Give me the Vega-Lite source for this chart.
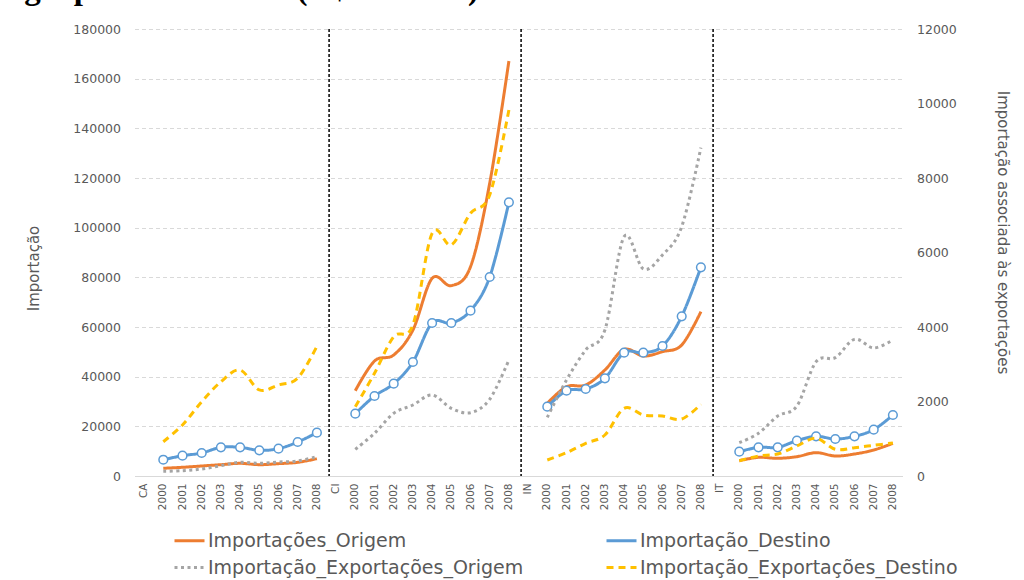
{
  "$schema": "https://vega.github.io/schema/vega-lite/v6.json",
  "width": 768,
  "height": 447,
  "autosize": "none",
  "padding": {"left": 134.5, "top": 29, "right": 121.5, "bottom": 104},
  "background": "white",
  "config": {
    "font": "DejaVu Sans",
    "view": {"stroke": null},
    "legend": {
      "orient": "none",
      "legendX": 38.5,
      "legendY": 495,
      "columns": 2,
      "direction": "horizontal",
      "symbolType": "stroke",
      "symbolSize": 900,
      "symbolStrokeWidth": 3,
      "labelFontSize": 19,
      "labelColor": "#595959",
      "labelLimit": 600,
      "labelOffset": 2,
      "columnPadding": 76,
      "rowPadding": -10
    }
  },
  "title": {
    "text": "a grupo de atividade (R$ Milhões) – 2000 a 2008",
    "font": "Liberation Serif",
    "fontSize": 33,
    "fontWeight": "bold",
    "color": "black",
    "anchor": "start",
    "frame": "group",
    "orient": "top",
    "baseline": "alphabetic",
    "offset": 15,
    "dy": 24,
    "dx": -135
  },
  "datasets": {
    "d": [
      {"cat": "CA_2000", "g": "CA", "Importações_Origem": 3100, "Importação_Destino": 6560, "Importação_Exportações_Origem": 125, "Importação_Exportações_Destino": 920},
      {"cat": "CA_2001", "g": "CA", "Importações_Origem": 3500, "Importação_Destino": 8180, "Importação_Exportações_Origem": 143, "Importação_Exportações_Destino": 1370},
      {"cat": "CA_2002", "g": "CA", "Importações_Origem": 4030, "Importação_Destino": 9260, "Importação_Exportações_Origem": 188, "Importação_Exportações_Destino": 1995},
      {"cat": "CA_2003", "g": "CA", "Importações_Origem": 4560, "Importação_Destino": 11550, "Importação_Exportações_Origem": 277, "Importação_Exportações_Destino": 2530},
      {"cat": "CA_2004", "g": "CA", "Importações_Origem": 5100, "Importação_Destino": 11550, "Importação_Exportações_Origem": 367, "Importação_Exportações_Destino": 2845},
      {"cat": "CA_2005", "g": "CA", "Importações_Origem": 4560, "Importação_Destino": 10340, "Importação_Exportações_Origem": 340, "Importação_Exportações_Destino": 2310},
      {"cat": "CA_2006", "g": "CA", "Importações_Origem": 4970, "Importação_Destino": 11000, "Importação_Exportações_Origem": 376, "Importação_Exportações_Destino": 2445},
      {"cat": "CA_2007", "g": "CA", "Importações_Origem": 5500, "Importação_Destino": 13690, "Importação_Exportações_Origem": 403, "Importação_Exportações_Destino": 2625},
      {"cat": "CA_2008", "g": "CA", "Importações_Origem": 6980, "Importação_Destino": 17440, "Importação_Exportações_Origem": 519, "Importação_Exportações_Destino": 3480},
      {"cat": "CI_2000", "g": "CI", "Importações_Origem": 34350, "Importação_Destino": 25090, "Importação_Exportações_Origem": 716, "Importação_Exportações_Destino": 1860},
      {"cat": "CI_2001", "g": "CI", "Importações_Origem": 46310, "Importação_Destino": 32220, "Importação_Exportações_Origem": 1146, "Importação_Exportações_Destino": 2757},
      {"cat": "CI_2002", "g": "CI", "Importações_Origem": 48730, "Importação_Destino": 37170, "Importação_Exportações_Origem": 1683, "Importação_Exportações_Destino": 3740},
      {"cat": "CI_2003", "g": "CI", "Importações_Origem": 58790, "Importação_Destino": 45910, "Importação_Exportações_Origem": 1906, "Importação_Exportações_Destino": 4054},
      {"cat": "CI_2004", "g": "CI", "Importações_Origem": 79600, "Importação_Destino": 61610, "Importação_Exportações_Origem": 2175, "Importação_Exportações_Destino": 6516},
      {"cat": "CI_2005", "g": "CI", "Importações_Origem": 76640, "Importação_Destino": 61610, "Importação_Exportações_Origem": 1817, "Importação_Exportações_Destino": 6202},
      {"cat": "CI_2006", "g": "CI", "Importações_Origem": 84290, "Importação_Destino": 66570, "Importação_Exportações_Origem": 1700, "Importação_Exportações_Destino": 7053},
      {"cat": "CI_2007", "g": "CI", "Importações_Origem": 117870, "Importação_Destino": 80140, "Importação_Exportações_Origem": 2059, "Importação_Exportações_Destino": 7545},
      {"cat": "CI_2008", "g": "CI", "Importações_Origem": 167100, "Importação_Destino": 110200, "Importação_Exportações_Origem": 3115, "Importação_Exportações_Destino": 9827},
      {"cat": "IN_2000", "g": "IN", "Importações_Origem": 29280, "Importação_Destino": 27910, "Importação_Exportações_Origem": 1576, "Importação_Exportações_Destino": 430},
      {"cat": "IN_2001", "g": "IN", "Importações_Origem": 35960, "Importação_Destino": 34350, "Importação_Exportações_Origem": 2578, "Importação_Exportações_Destino": 626},
      {"cat": "IN_2002", "g": "IN", "Importações_Origem": 36650, "Importação_Destino": 35030, "Importação_Exportações_Origem": 3383, "Importação_Exportações_Destino": 878},
      {"cat": "IN_2003", "g": "IN", "Importações_Origem": 42690, "Importação_Destino": 39340, "Importação_Exportações_Origem": 3920, "Importação_Exportações_Destino": 1101},
      {"cat": "IN_2004", "g": "IN", "Importações_Origem": 51020, "Importação_Destino": 49650, "Importação_Exportações_Origem": 6425, "Importação_Exportações_Destino": 1817},
      {"cat": "IN_2005", "g": "IN", "Importações_Origem": 48320, "Importação_Destino": 49650, "Importação_Exportações_Origem": 5558, "Importação_Exportações_Destino": 1638},
      {"cat": "IN_2006", "g": "IN", "Importações_Origem": 50060, "Importação_Destino": 52350, "Importação_Exportações_Origem": 5934, "Importação_Exportações_Destino": 1611},
      {"cat": "IN_2007", "g": "IN", "Importações_Origem": 52750, "Importação_Destino": 64310, "Importação_Exportações_Origem": 6694, "Importação_Exportações_Destino": 1530},
      {"cat": "IN_2008", "g": "IN", "Importações_Origem": 66160, "Importação_Destino": 84040, "Importação_Exportações_Origem": 8815, "Importação_Exportações_Destino": 1925},
      {"cat": "IT_2000", "g": "IT", "Importações_Origem": 6170, "Importação_Destino": 9790, "Importação_Exportações_Origem": 895, "Importação_Exportações_Destino": 411},
      {"cat": "IT_2001", "g": "IT", "Importações_Origem": 7520, "Importação_Destino": 11550, "Importação_Exportações_Origem": 1146, "Importação_Exportações_Destino": 537},
      {"cat": "IT_2002", "g": "IT", "Importações_Origem": 7120, "Importação_Destino": 11550, "Importação_Exportações_Origem": 1611, "Importação_Exportações_Destino": 591},
      {"cat": "IT_2003", "g": "IT", "Importações_Origem": 7790, "Importação_Destino": 14230, "Importação_Exportações_Origem": 1880, "Importação_Exportações_Destino": 806},
      {"cat": "IT_2004", "g": "IT", "Importações_Origem": 9400, "Importação_Destino": 15970, "Importação_Exportações_Origem": 3069, "Importação_Exportações_Destino": 1011},
      {"cat": "IT_2005", "g": "IT", "Importações_Origem": 8050, "Importação_Destino": 14900, "Importação_Exportações_Origem": 3177, "Importação_Exportações_Destino": 716},
      {"cat": "IT_2006", "g": "IT", "Importações_Origem": 8860, "Importação_Destino": 15970, "Importação_Exportações_Origem": 3669, "Importação_Exportações_Destino": 761},
      {"cat": "IT_2007", "g": "IT", "Importações_Origem": 10470, "Importação_Destino": 18660, "Importação_Exportações_Origem": 3437, "Importação_Exportações_Destino": 823},
      {"cat": "IT_2008", "g": "IT", "Importações_Origem": 13150, "Importação_Destino": 24560, "Importação_Exportações_Origem": 3652, "Importação_Exportações_Destino": 886}
    ]
  },
  "layer": [
    {
      "layer": [
        {
          "data": {"values": [{"cat": "CI"}, {"cat": "IN"}, {"cat": "IT"}]},
          "mark": {"type": "rule", "color": "black", "strokeDash": [3, 2], "strokeWidth": 1.5},
          "encoding": {
            "x": {
              "field": "cat", "type": "nominal", "bandPosition": 0.135,
              "scale": {"type": "band", "paddingInner": 0, "paddingOuter": 0, "domain": ["CA", "CA_2000", "CA_2001", "CA_2002", "CA_2003", "CA_2004", "CA_2005", "CA_2006", "CA_2007", "CA_2008", "CI", "CI_2000", "CI_2001", "CI_2002", "CI_2003", "CI_2004", "CI_2005", "CI_2006", "CI_2007", "CI_2008", "IN", "IN_2000", "IN_2001", "IN_2002", "IN_2003", "IN_2004", "IN_2005", "IN_2006", "IN_2007", "IN_2008", "IT", "IT_2000", "IT_2001", "IT_2002", "IT_2003", "IT_2004", "IT_2005", "IT_2006", "IT_2007", "IT_2008"]},
              "axis": {"orient": "bottom", "title": null, "labelAngle": -90, "labelFontSize": 10.5, "labelColor": "#595959", "labelPadding": 7, "ticks": false, "domainColor": "#D9D9D9", "domainWidth": 1, "grid": false, "labelExpr": "length(datum.value) > 2 ? substring(datum.value, 3) : datum.value"}
            }
          }
        },
        {
          "data": {"name": "d"},
          "transform": [
            {"fold": ["Importações_Origem", "Importação_Destino", "Importação_Exportações_Origem", "Importação_Exportações_Destino"], "as": ["serie", "valor"]},
            {"filter": {"field": "serie", "oneOf": ["Importações_Origem", "Importação_Destino"]}}
          ],
          "mark": {"type": "line", "interpolate": "cardinal", "strokeWidth": 3},
          "encoding": {
            "x": {
              "field": "cat", "type": "nominal",
              "scale": {"type": "band", "paddingInner": 0, "paddingOuter": 0, "domain": ["CA", "CA_2000", "CA_2001", "CA_2002", "CA_2003", "CA_2004", "CA_2005", "CA_2006", "CA_2007", "CA_2008", "CI", "CI_2000", "CI_2001", "CI_2002", "CI_2003", "CI_2004", "CI_2005", "CI_2006", "CI_2007", "CI_2008", "IN", "IN_2000", "IN_2001", "IN_2002", "IN_2003", "IN_2004", "IN_2005", "IN_2006", "IN_2007", "IN_2008", "IT", "IT_2000", "IT_2001", "IT_2002", "IT_2003", "IT_2004", "IT_2005", "IT_2006", "IT_2007", "IT_2008"]}
            },
            "y": {
              "field": "valor", "type": "quantitative",
              "scale": {"domain": [0, 180000], "nice": false, "zero": true},
              "axis": {"orient": "left", "values": [0, 20000, 40000, 60000, 80000, 100000, 120000, 140000, 160000, 180000], "format": "d", "grid": true, "gridDash": [4, 3], "gridColor": "#D9D9D9", "gridWidth": 1, "domain": false, "ticks": false, "labelPadding": 14, "labelFontSize": 12.5, "labelColor": "#595959", "title": "Importação", "titleFontSize": 15, "titleFontWeight": "normal", "titleColor": "#595959", "titleAngle": -90, "titleAlign": "center", "titleBaseline": "middle", "titleX": -101, "titleY": 239}
            },
            "color": {
              "field": "serie", "type": "nominal", "title": null,
              "scale": {"domain": ["Importações_Origem", "Importação_Destino", "Importação_Exportações_Origem", "Importação_Exportações_Destino"], "range": ["#ED7D31", "#5B9BD5", "#A5A5A5", "#FFC000"]}
            },
            "strokeDash": {
              "field": "serie", "type": "nominal", "title": null,
              "scale": {"domain": ["Importações_Origem", "Importação_Destino", "Importação_Exportações_Origem", "Importação_Exportações_Destino"], "range": [[1, 0], [1, 0], [3, 3.5], [7, 5]]}
            },
            "detail": {"field": "g"}
          }
        },
        {
          "data": {"name": "d"},
          "transform": [
            {"fold": ["Importação_Destino"], "as": ["serie", "valor"]}
          ],
          "mark": {"type": "circle", "fill": "white", "stroke": "#5B9BD5", "strokeWidth": 1.5, "size": 75, "opacity": 1},
          "encoding": {
            "x": {
              "field": "cat", "type": "nominal",
              "scale": {"type": "band", "paddingInner": 0, "paddingOuter": 0, "domain": ["CA", "CA_2000", "CA_2001", "CA_2002", "CA_2003", "CA_2004", "CA_2005", "CA_2006", "CA_2007", "CA_2008", "CI", "CI_2000", "CI_2001", "CI_2002", "CI_2003", "CI_2004", "CI_2005", "CI_2006", "CI_2007", "CI_2008", "IN", "IN_2000", "IN_2001", "IN_2002", "IN_2003", "IN_2004", "IN_2005", "IN_2006", "IN_2007", "IN_2008", "IT", "IT_2000", "IT_2001", "IT_2002", "IT_2003", "IT_2004", "IT_2005", "IT_2006", "IT_2007", "IT_2008"]}
            },
            "y": {"field": "valor", "type": "quantitative"}
          }
        }
      ]
    },
    {
      "data": {"name": "d"},
      "transform": [
        {"fold": ["Importações_Origem", "Importação_Destino", "Importação_Exportações_Origem", "Importação_Exportações_Destino"], "as": ["serie", "valor"]},
        {"filter": {"field": "serie", "oneOf": ["Importação_Exportações_Origem", "Importação_Exportações_Destino"]}}
      ],
      "mark": {"type": "line", "interpolate": "cardinal", "strokeWidth": 3},
      "encoding": {
        "x": {
          "field": "cat", "type": "nominal",
          "scale": {"type": "band", "paddingInner": 0, "paddingOuter": 0, "domain": ["CA", "CA_2000", "CA_2001", "CA_2002", "CA_2003", "CA_2004", "CA_2005", "CA_2006", "CA_2007", "CA_2008", "CI", "CI_2000", "CI_2001", "CI_2002", "CI_2003", "CI_2004", "CI_2005", "CI_2006", "CI_2007", "CI_2008", "IN", "IN_2000", "IN_2001", "IN_2002", "IN_2003", "IN_2004", "IN_2005", "IN_2006", "IN_2007", "IN_2008", "IT", "IT_2000", "IT_2001", "IT_2002", "IT_2003", "IT_2004", "IT_2005", "IT_2006", "IT_2007", "IT_2008"]}
        },
        "y": {
          "field": "valor", "type": "quantitative",
          "scale": {"domain": [0, 12000], "nice": false, "zero": true},
          "axis": {"orient": "right", "values": [0, 2000, 4000, 6000, 8000, 10000, 12000], "format": "d", "grid": false, "domain": false, "ticks": false, "labelPadding": 14, "labelFontSize": 12.5, "labelColor": "#595959", "title": "Importação associada às exportações", "titleFontSize": 15, "titleFontWeight": "normal", "titleColor": "#595959", "titleAngle": 90, "titleAlign": "center", "titleBaseline": "middle", "titleX": 99.5, "titleY": 203}
        },
        "color": {
          "field": "serie", "type": "nominal", "title": null,
          "scale": {"domain": ["Importações_Origem", "Importação_Destino", "Importação_Exportações_Origem", "Importação_Exportações_Destino"], "range": ["#ED7D31", "#5B9BD5", "#A5A5A5", "#FFC000"]}
        },
        "strokeDash": {
          "field": "serie", "type": "nominal", "title": null,
          "scale": {"domain": ["Importações_Origem", "Importação_Destino", "Importação_Exportações_Origem", "Importação_Exportações_Destino"], "range": [[1, 0], [1, 0], [3, 3.5], [7, 5]]}
        },
        "detail": {"field": "g"}
      }
    }
  ],
  "resolve": {"scale": {"y": "independent"}}
}
